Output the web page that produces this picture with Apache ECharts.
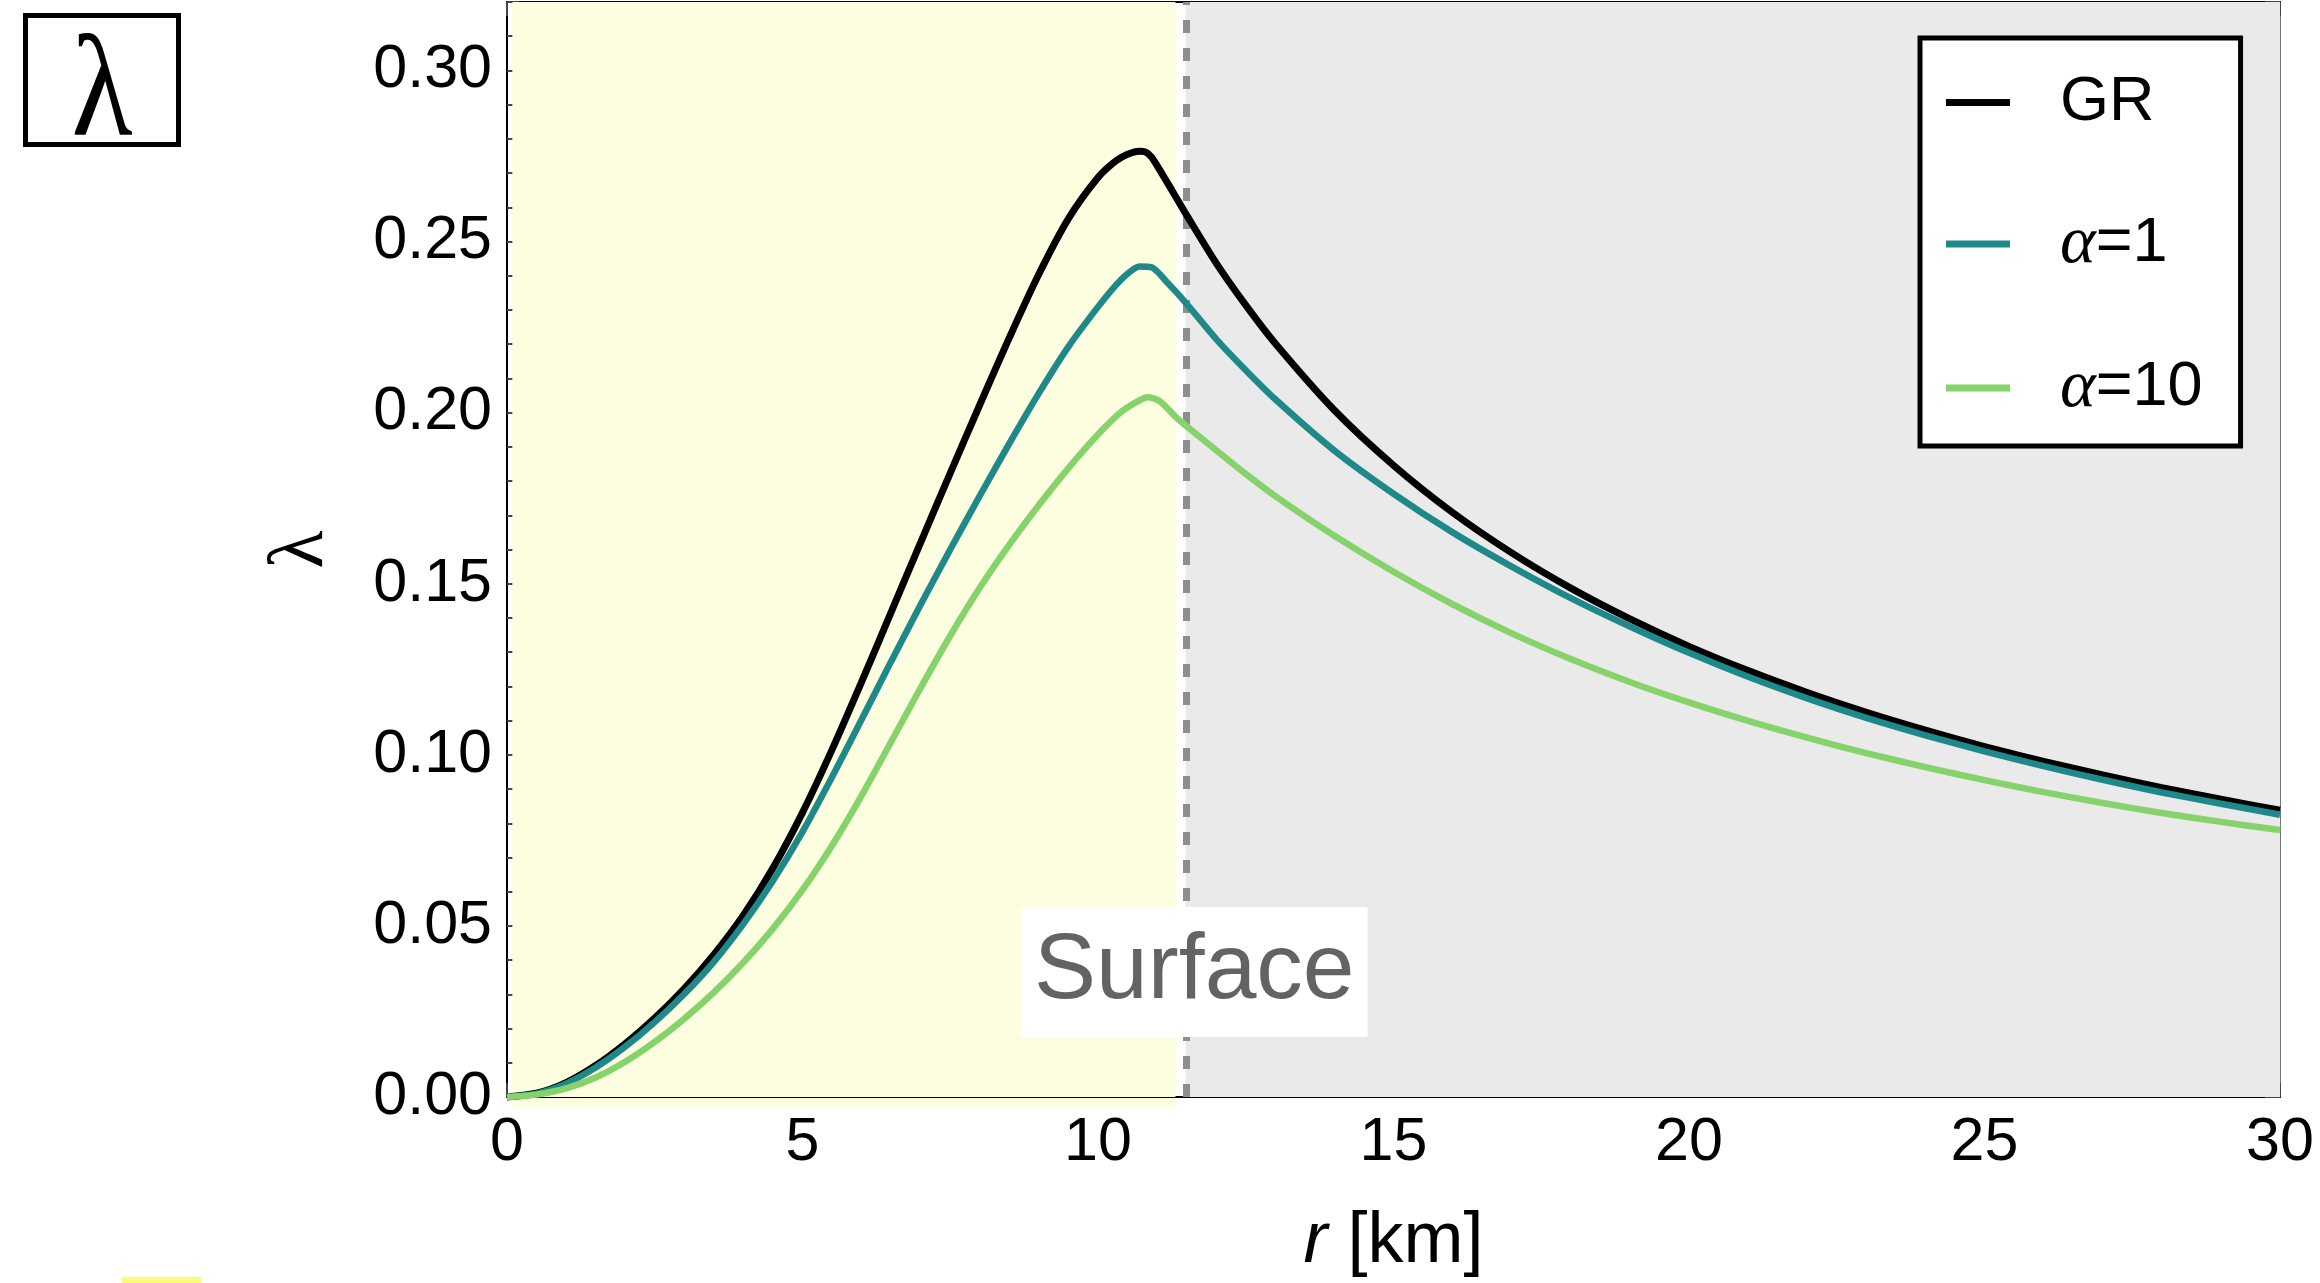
<!DOCTYPE html>
<html>
<head>
<meta charset="utf-8">
<script src="https://cdn.jsdelivr.net/npm/echarts@6/dist/echarts.min.js"></script>
<style>
html,body{margin:0;padding:0;background:#fff;}
#c{width:2320px;height:1283px;}
</style>
</head>
<body>
<div id="c"></div>
<script>
// ---------------- data ----------------
const seriesNames = ['GR', 'α=1', 'α=10'];

const rGR = [0, 0.5, 1, 1.5, 2, 2.5, 3, 3.5, 4, 4.5, 5, 5.5, 6, 6.5, 7, 7.5, 8, 8.5, 9, 9.5, 10, 10.3, 10.5, 10.7, 10.8, 10.9, 11.0, 11.25, 11.5,
             12, 12.5, 13, 14, 15, 16, 17, 18, 19, 20, 21, 22, 23, 24, 25, 26, 27, 28, 29, 30];
const lamGR = [0, 0.0011, 0.0042, 0.0092, 0.0156, 0.0231, 0.0317, 0.0416, 0.0531, 0.0669, 0.0831, 0.1015, 0.1213, 0.1417, 0.1621, 0.1823, 0.2023, 0.2219, 0.2405, 0.2567, 0.2687, 0.2735, 0.2755, 0.2764, 0.2762, 0.2748, 0.2722, 0.2650, 0.2577,
               0.2437, 0.2314, 0.2202, 0.2007, 0.1846, 0.1708, 0.1590, 0.1487, 0.1397, 0.1317, 0.1246, 0.1182, 0.1124, 0.1072, 0.1024, 0.0981, 0.0941, 0.0904, 0.0870, 0.0838];

const rA1 = [0, 0.5, 1, 1.5, 2, 2.5, 3, 3.5, 4, 4.5, 5, 5.5, 6, 6.5, 7, 7.5, 8, 8.5, 9, 9.5, 10, 10.3, 10.5, 10.7, 10.9, 11.2, 11.5,
             12, 12.5, 13, 14, 15, 16, 17, 18, 19, 20, 21, 22, 23, 24, 25, 26, 27, 28, 29, 30];
const lamA1 = [0, 0.0010, 0.0039, 0.0086, 0.0147, 0.0219, 0.0301, 0.0395, 0.0506, 0.0632, 0.0775, 0.0935, 0.1103, 0.1273, 0.1439, 0.1600, 0.1757, 0.1910, 0.2057, 0.2193, 0.2309, 0.2372, 0.2406, 0.2427, 0.2425, 0.2375, 0.2318,
               0.2215, 0.2124, 0.2039, 0.1889, 0.1763, 0.1650, 0.1550, 0.1458, 0.1375, 0.1298, 0.1228, 0.1165, 0.1108, 0.1057, 0.1010, 0.0967, 0.0927, 0.0890, 0.0857, 0.0825];

const rA10 = [0, 0.5, 1, 1.5, 2, 2.5, 3, 3.5, 4, 4.5, 5, 5.5, 6, 6.5, 7, 7.5, 8, 8.5, 9, 9.5, 10, 10.4, 10.7, 10.85, 11.05, 11.3, 11.5,
              12, 12.5, 13, 14, 15, 16, 17, 18, 19, 20, 21, 22, 23, 24, 25, 26, 27, 28, 29, 30];
const lamA10 = [0, 0.0007, 0.0025, 0.0057, 0.0103, 0.0161, 0.0229, 0.0306, 0.0393, 0.0492, 0.0605, 0.0735, 0.0881, 0.1038, 0.1196, 0.1348, 0.1488, 0.1614, 0.1730, 0.1838, 0.1936, 0.2003, 0.2036, 0.2045, 0.2033, 0.1990, 0.1960,
                0.1890, 0.1821, 0.1756, 0.1640, 0.1535, 0.1440, 0.1355, 0.1280, 0.1213, 0.1153, 0.1099, 0.1050, 0.1005, 0.0964, 0.0926, 0.0891, 0.0859, 0.0830, 0.0804, 0.0780];

const xTickLabels = ['0', '5', '10', '15', '20', '25', '30'];
const yTickLabels = ['0.00', '0.05', '0.10', '0.15', '0.20', '0.25', '0.30'];

const surfaceR = [11.5];            // stellar surface (dashed line)
const interiorBand = [0.09, 11.31]; // yellow region
const exteriorBand = [11.48, 30];   // grey region
const surfaceLabelAt = [11.63, 0.0365];

// ---------------- styling ----------------
const FONT = '"Liberation Sans", Arial, Helvetica, sans-serif';
const SERIF = '"Liberation Serif", "Times New Roman", serif';
const colors = ['#000000', '#1f898a', '#86d36c'];
const YELLOW = '#fdfde0';
const GREY = '#eaeaea';

const pairs = (xs, ys) => xs.map((x, i) => [x, ys[i]]);
const near = (v, step) => Math.abs(v / step - Math.round(v / step)) < 1e-6;

const xFmt = v => near(v, 5) ? xTickLabels[Math.round(v / 5)] || '' : '';
const yFmt = v => (near(v, 0.05) && v < 0.305) ? yTickLabels[Math.round(v / 0.05)] || '' : '';

const tickCol = '#444';

function xAxisDef(pos, showLabels) {
  return {
    type: 'value', position: pos, min: 0, max: 30, interval: 5,
    axisLine: { show: true, onZero: false, lineStyle: { color: '#000', width: 2 } },
    axisTick: { show: true, inside: true, length: 14, lineStyle: { color: tickCol, width: 2 } },
    minorTick: { show: true, splitNumber: 5, length: 11, lineStyle: { color: tickCol, width: 2 } },
    splitLine: { show: false }, minorSplitLine: { show: false },
    axisLabel: showLabels ? { show: true, fontSize: 61, color: '#000', fontFamily: FONT, margin: 16, formatter: xFmt } : { show: false }
  };
}
function yAxisDef(pos, step, tickLen, showLabels, lineColor) {
  return {
    type: 'value', position: pos, min: 0, max: 0.32, interval: step,
    axisLine: { show: true, onZero: false, lineStyle: { color: lineColor, width: 2 } },
    axisTick: { show: true, inside: true, length: tickLen, lineStyle: { color: tickCol, width: 2 } },
    splitLine: { show: false },
    axisLabel: showLabels ? { show: true, fontSize: 61, color: '#000', fontFamily: FONT, margin: 15, formatter: yFmt, showMaxLabel: false } : { show: false }
  };
}

const xBottom = xAxisDef('bottom', true);
xBottom.name = '{i|r} [km]';
xBottom.nameLocation = 'middle';
xBottom.nameGap = 109;
xBottom.nameTextStyle = { fontSize: 72, color: '#000', fontFamily: FONT, lineHeight: 72,
  rich: { i: { fontStyle: 'italic', fontSize: 72, fontFamily: FONT, color: '#000', lineHeight: 72 } } };

const yLeft = yAxisDef('left', 0.05, 15, true, '#000');
yLeft.name = 'λ';
yLeft.nameLocation = 'middle';
yLeft.nameGap = 166;
yLeft.nameRotate = 90;
yLeft.nameTextStyle = { fontSize: 78, color: '#000', fontFamily: SERIF, lineHeight: 78 };

const option = {
  animation: false,
  backgroundColor: '#ffffff',
  grid: { left: 507, right: 40, top: 2, bottom: 185, containLabel: false },
  xAxis: [xBottom, xAxisDef('top', false)],
  yAxis: [
    yLeft,
    yAxisDef('left', 0.01, 12, false, '#000'),
    yAxisDef('right', 0.05, 15, false, '#777'),
    yAxisDef('right', 0.01, 12, false, '#777')
  ],
  legend: {
    left: 1920, top: 38, orient: 'vertical',
    backgroundColor: '#ffffff', borderColor: '#000', borderWidth: 5,
    padding: [33, 38, 24, 26],
    itemWidth: 64, itemHeight: 7, itemGap: 76, icon: 'rect',
    data: seriesNames,
    formatter: name => name === 'GR' ? 'GR' : '{g|α}=' + name.split('=')[1],
    textStyle: {
      fontSize: 63, color: '#000', fontFamily: FONT, lineHeight: 63, padding: [0, 0, 0, 45],
      rich: { g: { fontFamily: SERIF, fontStyle: 'italic', fontSize: 68, color: '#000', lineHeight: 63 } }
    }
  },
  series: [
    {
      name: seriesNames[0], type: 'line', data: pairs(rGR, lamGR), showSymbol: false, smooth: 0.25, clip: false, z: 3,
      lineStyle: { color: colors[0], width: 7 }, itemStyle: { color: colors[0] },
      markArea: {
        silent: true, z: 1,
        data: [
          [{ xAxis: interiorBand[0], itemStyle: { color: YELLOW } }, { xAxis: interiorBand[1] }],
          [{ xAxis: exteriorBand[0], itemStyle: { color: GREY } }, { xAxis: exteriorBand[1] }]
        ]
      },
      markLine: {
        silent: true, z: 2, symbol: ['none', 'none'], label: { show: false },
        lineStyle: { color: '#8e8e8e', width: 7, type: [13, 15] },
        data: [{ xAxis: surfaceR[0] }]
      }
    },
    {
      name: seriesNames[1], type: 'line', data: pairs(rA1, lamA1), showSymbol: false, smooth: 0.25, clip: false, z: 3,
      lineStyle: { color: colors[1], width: 6.5 }, itemStyle: { color: colors[1] }
    },
    {
      name: seriesNames[2], type: 'line', data: pairs(rA10, lamA10), showSymbol: false, smooth: 0.25, clip: false, z: 3,
      lineStyle: { color: colors[2], width: 6.5 }, itemStyle: { color: colors[2] },
      markPoint: {
        silent: true, z: 6, symbol: 'circle', symbolSize: 1, itemStyle: { color: 'rgba(0,0,0,0)' },
        data: [{ coord: surfaceLabelAt, value: 0 }],
        label: {
          show: true, position: 'inside', formatter: 'Surface',
          fontSize: 93, lineHeight: 93, color: '#636363', fontFamily: FONT,
          backgroundColor: '#ffffff', padding: [28, 13, 9, 13]
        }
      }
    }
  ],
  graphic: [
    { type: 'rect', z: 10, shape: { x: 25.5, y: 15.5, width: 153, height: 129 },
      style: { fill: '#ffffff', stroke: '#000000', lineWidth: 5 } },
    { type: 'text', z: 11, x: 102, y: 96, scaleY: 1.15, scaleX: 1.0,
      style: { text: 'λ', x: 0, y: 0, align: 'center', verticalAlign: 'middle',
      fontSize: 126, fontFamily: SERIF, fill: '#000' } },
    { type: 'rect', z: 10, shape: { x: 122, y: 1277, width: 79, height: 6 }, style: { fill: '#fbfb7a' } }
  ]
};

const chart = echarts.init(document.getElementById('c'), null, { renderer: 'canvas', width: 2320, height: 1283 });
chart.setOption(option);

// The interior (yellow) band spills a few pixels below the r-axis in the reference.
const pL = chart.convertToPixel({ xAxisIndex: 0, yAxisIndex: 0 }, [interiorBand[0], 0]);
const pR = chart.convertToPixel({ xAxisIndex: 0, yAxisIndex: 0 }, [interiorBand[1], 0]);
option.graphic.push({ type: 'rect', z: 0, silent: true,
  shape: { x: pL[0], y: pL[1] + 1, width: pR[0] - pL[0], height: 9 }, style: { fill: YELLOW } });
chart.setOption({ graphic: option.graphic });
</script>
</body>
</html>
